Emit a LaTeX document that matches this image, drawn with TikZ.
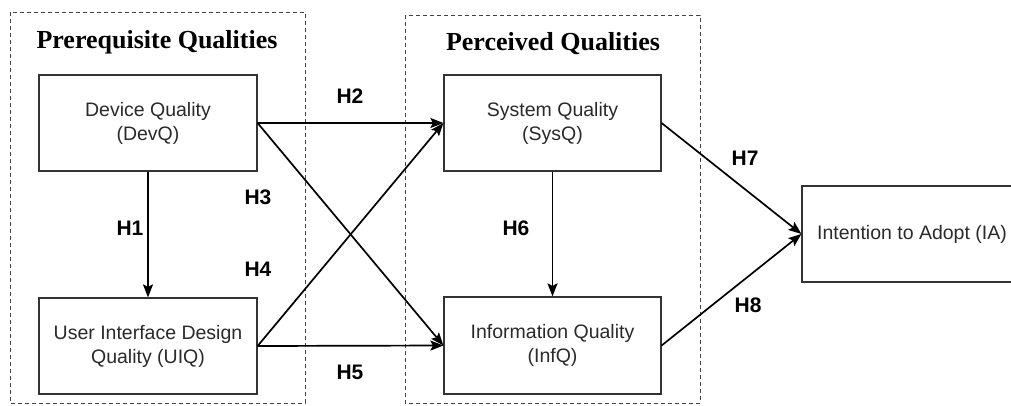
\documentclass[tikz,border=0pt]{standalone}
\usepackage{fontspec}
\setmainfont{Liberation Sans}
\newfontfamily\titlefont{Liberation Serif}
\usetikzlibrary{arrows.meta}
\definecolor{boxline}{HTML}{333333}
\definecolor{boxtext}{HTML}{2A2A2A}
\definecolor{dashline}{HTML}{444444}
\tikzset{
  qbox/.style={draw=boxline, line width=1.2pt, rectangle, minimum width=217pt, minimum height=96pt,
    inner sep=0pt, align=center, text=boxtext, font=\fontsize{19.5}{24}\selectfont},
  grp/.style={draw=dashline, line width=0.8pt, dash pattern=on 4pt off 3pt},
  grptitle/.style={font=\titlefont\bfseries\fontsize{26}{30}\selectfont, text=black},
  hlab/.style={font=\bfseries\fontsize{21}{24}\selectfont, text=black},
  arr/.style={draw=black, line width=1.7pt, -{Stealth[length=13pt,width=10pt,inset=2.5pt]}}
}
\begin{document}
\begin{tikzpicture}[x=1pt,y=-1pt]
\clip (0,0) rectangle (1011,405);
\fill[white] (0,0) rectangle (1011,405);
% groups
\draw[grp] (10,12) rectangle (305,403);
\draw[grp] (405,15) rectangle (700,403);
\node[grptitle] (t1) at (157,42) {Prerequisite Qualities};
\node[grptitle] (t2) at (553,44) {Perceived Qualities};
% boxes
\node[qbox, minimum width=218pt] (devq) at (148,123) {Device Quality\\(DevQ)};
\node[qbox, minimum width=218pt] (uiq) at (148,346) {User Interface Design\\Quality (UIQ)};
\node[qbox] (sysq) at (552.5,123) {System Quality\\(SysQ)};
\node[qbox, minimum height=97pt] (infq) at (552.5,345.5) {Information Quality\\(InfQ)};
\node[qbox, minimum width=220pt] (ia) at (912,234) {Intention to Adopt (IA)};
% connectors
\draw[arr] (devq.south) -- (uiq.north);
\draw[arr] (devq.east) -- (sysq.west);
\draw[arr] (devq.east) -- (infq.west);
\draw[arr] (uiq.east) -- (sysq.west);
\draw[arr] (uiq.east) -- (infq.west);
\draw[arr] (sysq.south) -- (infq.north);
\draw[arr] (sysq.east) -- (ia.west);
\draw[arr] (infq.east) -- (ia.west);
% labels
\node[hlab] (h1) at (130,228) {H1};
\node[hlab] (h2) at (350,96) {H2};
\node[hlab] (h3) at (258,197) {H3};
\node[hlab] (h4) at (258,269) {H4};
\node[hlab] (h5) at (350,372) {H5};
\node[hlab] (h6) at (516,228) {H6};
\node[hlab] (h7) at (745,158) {H7};
\node[hlab] (h8) at (748,305) {H8};
\end{tikzpicture}
\end{document}
